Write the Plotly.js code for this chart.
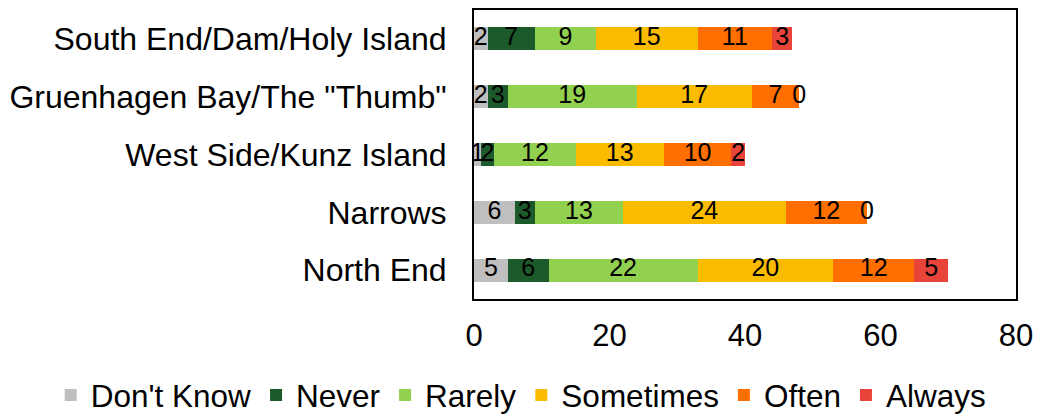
<!DOCTYPE html>
<html>
<head>
<meta charset="utf-8">
<script src="https://cdn.plot.ly/plotly-3.0.1.min.js"></script>
<style>
  html, body { margin: 0; padding: 0; background: #fff; }
  #chart { width: 1039px; height: 416px; }
</style>
</head>
<body>
<div id="chart"></div>
<script>
// Categories (top to bottom as shown)
const categories = [
  'South End/Dam/Holy Island',
  'Gruenhagen Bay/The "Thumb"',
  'West Side/Kunz Island',
  'Narrows',
  'North End'
];

// Series (order of stacking, left to right)
const seriesNames = ["Don't Know", 'Never', 'Rarely', 'Sometimes', 'Often', 'Always'];
const dontKnow  = [2, 2, 1, 6, 5];
const never     = [7, 3, 2, 3, 6];
const rarely    = [9, 19, 12, 13, 22];
const sometimes = [15, 17, 13, 24, 20];
const often     = [11, 7, 10, 12, 12];
const always    = [3, 0, 2, 0, 5];

const seriesValues = [dontKnow, never, rarely, sometimes, often, always];
const seriesColors = ['#BFBFBF', '#1D5A2B', '#92D050', '#FBBC00', '#FF6F00', '#E8443A'];

const xTicks = [0, 20, 40, 60, 80];

const FONT = 'Liberation Sans, Arial, sans-serif';

const traces = [];
seriesValues.forEach((vals, i) => {
  traces.push({
    type: 'bar',
    orientation: 'h',
    name: seriesNames[i],
    y: categories,
    x: vals,
    marker: { color: seriesColors[i] },
    hoverinfo: 'x+name'
  });
});

// Value labels centered on each segment (computed from the data arrays)
const labX = [], labY = [], labT = [];
categories.forEach((c, ci) => {
  let cum = 0;
  seriesValues.forEach(vals => {
    const v = vals[ci];
    labX.push(cum + v / 2);
    labY.push(c);
    labT.push(String(v));
    cum += v;
  });
});
traces.push({
  type: 'scatter',
  mode: 'text',
  x: labX,
  y: labY,
  text: labT,
  textposition: 'middle center',
  textfont: { family: FONT, size: 25, color: '#000' },
  showlegend: false,
  hoverinfo: 'skip',
  cliponaxis: false
});

const layout = {
  width: 1039,
  height: 416,
  barmode: 'stack',
  bargap: 0.6,
  paper_bgcolor: '#fff',
  plot_bgcolor: '#fff',
  font: { family: FONT, color: '#000', size: 31 },
  margin: { l: 474, r: 23, t: 10, b: 117, pad: 0, autoexpand: false },
  xaxis: {
    range: [0, 80],
    tickvals: xTicks,
    ticktext: xTicks.map(String),
    showgrid: false,
    zeroline: false,
    showline: true,
    mirror: true,
    linecolor: '#000',
    linewidth: 2,
    ticks: '',
    ticklabelstandoff: 8,
    tickfont: { family: FONT, size: 31, color: '#000' },
    fixedrange: true
  },
  yaxis: {
    type: 'category',
    autorange: 'reversed',
    showgrid: false,
    zeroline: false,
    showline: true,
    mirror: true,
    linecolor: '#000',
    linewidth: 2,
    ticks: '',
    ticklabelstandoff: 19,
    tickfont: { family: FONT, size: 32, color: '#000' },
    fixedrange: true
  },
  legend: {
    orientation: 'h',
    x: -0.781,
    xanchor: 'left',
    y: -0.332,
    yanchor: 'middle',
    font: { family: FONT, size: 31.5, color: '#000' },
    traceorder: 'normal',
    bgcolor: 'rgba(0,0,0,0)'
  },
  showlegend: true
};

Plotly.newPlot('chart', traces, layout, { displayModeBar: false, staticPlot: true });
</script>
</body>
</html>
